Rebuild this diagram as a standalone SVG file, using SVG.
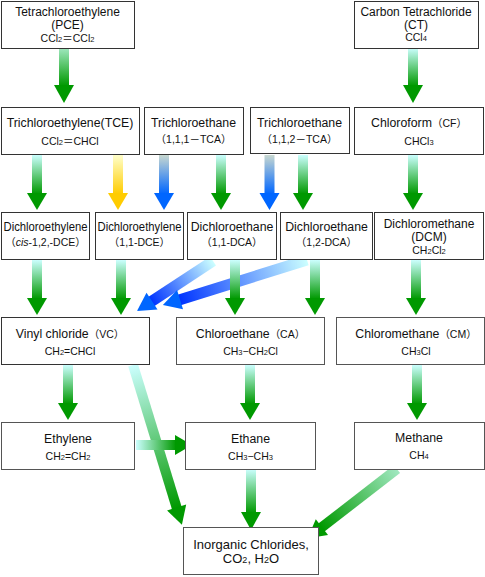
<svg xmlns="http://www.w3.org/2000/svg" width="485" height="577" viewBox="0 0 485 577">
<style>
text{font-family:"Liberation Sans","Noto Sans CJK JP",sans-serif;fill:#111;text-anchor:middle}
.n{font-size:12.3px}
.t{font-size:12px}
.s{font-size:10.5px}
.b{font-size:13px}
.u{font-size:7.5px}
rect.box{fill:#fff;stroke:#333;stroke-width:1}
rect.box2{fill:#fff;stroke:#555;stroke-width:1}
.hg{fill:#009900}
.hy{fill:#ffcc00}
.hb{fill:#0066ff}
</style>
<defs>
<linearGradient id="gG" x1="0" y1="0" x2="0" y2="1"><stop offset="0" stop-color="#ccffff"/><stop offset="1" stop-color="#009900"/></linearGradient>
<linearGradient id="gG2" x1="0" y1="0" x2="0" y2="1"><stop offset="0" stop-color="#a0e8c0"/><stop offset="1" stop-color="#009900"/></linearGradient>
<linearGradient id="gY" x1="0" y1="0" x2="0" y2="1"><stop offset="0" stop-color="#ffffcc"/><stop offset="1" stop-color="#ffcc00"/></linearGradient>
<linearGradient id="gB" x1="0" y1="0" x2="0" y2="1"><stop offset="0" stop-color="#c8d8d0"/><stop offset="1" stop-color="#0066ff"/></linearGradient>
<linearGradient id="gBd" x1="0" y1="0" x2="0" y2="1"><stop offset="0" stop-color="#ccffff"/><stop offset="1" stop-color="#0033ff"/></linearGradient>
</defs>
<g id="connectors">
<g transform="translate(213,261) rotate(56.66)"><rect x="-5.5" y="0" width="11" height="74" fill="url(#gBd)"/><polygon class="hb" points="-10,73 10,73 0,91"/></g>
<g transform="translate(307,260) rotate(72.65)"><rect x="-5.5" y="0" width="11" height="134" fill="url(#gBd)"/><polygon class="hb" points="-10,133 10,133 0,151"/></g>
<g transform="translate(133,365) rotate(-17.03)"><rect x="-5" y="0" width="10" height="150" fill="url(#gG)"/><polygon class="hg" points="-10,149 10,149 0,167"/></g>
<g transform="translate(397,469) rotate(52.22)"><rect x="-5" y="0" width="10" height="96" fill="url(#gG2)"/><polygon class="hg" points="-10,95 10,95 0,113"/></g>
<g transform="translate(136,445) rotate(-90)"><rect x="-5" y="0" width="10" height="40" fill="url(#gG)"/><polygon class="hg" points="-10,39 10,39 0,56"/></g>
<g transform="translate(64,48)"><rect x="-5" y="0" width="10" height="38" fill="url(#gG2)"/><polygon class="hg" points="-10,37 10,37 0,55"/></g>
<g transform="translate(413,48)"><rect x="-5" y="0" width="10" height="38" fill="url(#gG)"/><polygon class="hg" points="-10,37 10,37 0,55"/></g>
<g transform="translate(37,155)"><rect x="-5" y="0" width="10" height="39" fill="url(#gG)"/><polygon class="hg" points="-10,38 10,38 0,55"/></g>
<g transform="translate(118,155)"><rect x="-5" y="0" width="10" height="39" fill="url(#gY)"/><polygon class="hy" points="-10,38 10,38 0,55"/></g>
<g transform="translate(164,155)"><rect x="-5" y="0" width="10" height="39" fill="url(#gB)"/><polygon class="hb" points="-10,38 10,38 0,55"/></g>
<g transform="translate(221,155)"><rect x="-5" y="0" width="10" height="39" fill="url(#gG)"/><polygon class="hg" points="-10,38 10,38 0,55"/></g>
<g transform="translate(269.5,155)"><rect x="-5" y="0" width="10" height="39" fill="url(#gB)"/><polygon class="hb" points="-10,38 10,38 0,55"/></g>
<g transform="translate(303,155)"><rect x="-5" y="0" width="10" height="39" fill="url(#gG)"/><polygon class="hg" points="-10,38 10,38 0,55"/></g>
<g transform="translate(413,155)"><rect x="-5" y="0" width="10" height="39" fill="url(#gG)"/><polygon class="hg" points="-10,38 10,38 0,55"/></g>
<g transform="translate(37,260)"><rect x="-5" y="0" width="10" height="39" fill="url(#gG)"/><polygon class="hg" points="-10,38 10,38 0,55"/></g>
<g transform="translate(121,260)"><rect x="-5" y="0" width="10" height="39" fill="url(#gG)"/><polygon class="hg" points="-10,38 10,38 0,55"/></g>
<g transform="translate(235,260)"><rect x="-5" y="0" width="10" height="39" fill="url(#gG)"/><polygon class="hg" points="-10,38 10,38 0,55"/></g>
<g transform="translate(315,260)"><rect x="-5" y="0" width="10" height="39" fill="url(#gG)"/><polygon class="hg" points="-10,38 10,38 0,55"/></g>
<g transform="translate(416,260)"><rect x="-5" y="0" width="10" height="39" fill="url(#gG)"/><polygon class="hg" points="-10,38 10,38 0,55"/></g>
<g transform="translate(68,365)"><rect x="-5" y="0" width="10" height="39" fill="url(#gG)"/><polygon class="hg" points="-10,38 10,38 0,55"/></g>
<g transform="translate(250,365)"><rect x="-5" y="0" width="10" height="39" fill="url(#gG)"/><polygon class="hg" points="-10,38 10,38 0,55"/></g>
<g transform="translate(417,365)"><rect x="-5" y="0" width="10" height="39" fill="url(#gG)"/><polygon class="hg" points="-10,38 10,38 0,55"/></g>
<g transform="translate(251,469)"><rect x="-5" y="0" width="10" height="44" fill="url(#gG)"/><polygon class="hg" points="-10,43 10,43 0,61"/></g>
</g>
<g id="pce"><rect class="box" x="1.5" y="1.5" width="133" height="47"/><text class="t" x="67.5" y="15.5">Tetrachloroethylene</text><text class="t" x="67.5" y="28.5">(PCE)</text><text class="s" x="67.5" y="41.5">CCl<tspan class="u">2</tspan>＝CCl<tspan class="u">2</tspan></text></g>
<g id="ct"><rect class="box" x="354.5" y="1.5" width="124" height="47"/><text class="t" x="416" y="15.5">Carbon Tetrachloride</text><text class="t" x="416" y="28.5">(CT)</text><text class="s" x="416" y="41">CCl<tspan class="u">4</tspan></text></g>
<g id="tce"><rect class="box" x="1.5" y="107.5" width="138" height="47"/><text class="n" x="70" y="127">Trichloroethylene(TCE)</text><text class="s" x="70" y="145">CCl<tspan class="u">2</tspan>＝CHCl</text></g>
<g id="tca111"><rect class="box" x="144.5" y="107.5" width="99" height="47"/><text class="n" x="193.5" y="127">Trichloroethane</text><text class="s" x="193.5" y="143">（1,1,1－TCA）</text></g>
<g id="tca112"><rect class="box" x="250.5" y="107.5" width="99" height="46"/><text class="n" x="299.5" y="127">Trichloroethane</text><text class="s" x="299.5" y="143">（1,1,2－TCA）</text></g>
<g id="cf"><rect class="box" x="354.5" y="107.5" width="129" height="47"/><text class="n" x="419" y="127">Chloroform<tspan class="s">（CF）</tspan></text><text class="s" x="419" y="145">CHCl<tspan class="u">3</tspan></text></g>
<g id="cisdce"><rect class="box" x="1.5" y="212.5" width="88" height="47"/><text class="n" x="45.5" y="231" textLength="84" lengthAdjust="spacingAndGlyphs">Dichloroethylene</text><text class="s" x="45.5" y="246">（<tspan font-style="italic">cis</tspan>-1,2,-DCE）</text></g>
<g id="dce11"><rect class="box" x="95.5" y="212.5" width="88" height="47"/><text class="n" x="139.5" y="231" textLength="84" lengthAdjust="spacingAndGlyphs">Dichloroethylene</text><text class="s" x="139.5" y="246">（1,1-DCE）</text></g>
<g id="dca11"><rect class="box" x="187.5" y="212.5" width="89" height="47"/><text class="n" x="232" y="231">Dichloroethane</text><text class="s" x="232" y="246">（1,1-DCA）</text></g>
<g id="dca12"><rect class="box" x="280.5" y="212.5" width="92" height="47"/><text class="n" x="326.5" y="231">Dichloroethane</text><text class="s" x="326.5" y="246">（1,2-DCA）</text></g>
<g id="dcm"><rect class="box" x="374.5" y="212.5" width="109" height="47"/><text class="t" x="429" y="227.5">Dichloromethane</text><text class="t" x="429" y="240.5">(DCM)</text><text class="s" x="429" y="254">CH<tspan class="u">2</tspan>Cl<tspan class="u">2</tspan></text></g>
<g id="vc"><rect class="box" x="1.5" y="317.5" width="148" height="47"/><text class="n" x="70" y="338">Vinyl chloride<tspan class="s">（VC）</tspan></text><text class="s" x="70" y="355">CH<tspan class="u">2</tspan>=CHCl</text></g>
<g id="ca"><rect class="box2" x="176.5" y="317.5" width="148" height="47"/><text class="n" x="250.5" y="338">Chloroethane<tspan class="s">（CA）</tspan></text><text class="s" x="250.5" y="355">CH<tspan class="u">3</tspan>−CH<tspan class="u">2</tspan>Cl</text></g>
<g id="cm"><rect class="box2" x="336.5" y="317.5" width="148" height="47"/><text class="n" x="416" y="338">Chloromethane<tspan class="s">（CM）</tspan></text><text class="s" x="416" y="355">CH<tspan class="u">3</tspan>Cl</text></g>
<g id="ethylene"><rect class="box2" x="1.5" y="422.5" width="133" height="47"/><text class="n" x="68" y="443">Ethylene</text><text class="s" x="68" y="460">CH<tspan class="u">2</tspan>=CH<tspan class="u">2</tspan></text></g>
<g id="ethane"><rect class="box2" x="185.5" y="422.5" width="130" height="47"/><text class="n" x="250.5" y="443">Ethane</text><text class="s" x="250.5" y="460">CH<tspan class="u">3</tspan>−CH<tspan class="u">3</tspan></text></g>
<g id="methane"><rect class="box2" x="354.5" y="422.5" width="130" height="47"/><text class="n" x="419" y="442">Methane</text><text class="s" x="419" y="459">CH<tspan class="u">4</tspan></text></g>
<g id="inorganic"><rect class="box2" x="183.5" y="527.5" width="135" height="47"/><text class="b" x="251" y="549">Inorganic Chlorides,</text><text class="b" x="251" y="563">CO<tspan font-size="9px">2</tspan>, H<tspan font-size="9px">2</tspan>O</text></g>
</svg>
